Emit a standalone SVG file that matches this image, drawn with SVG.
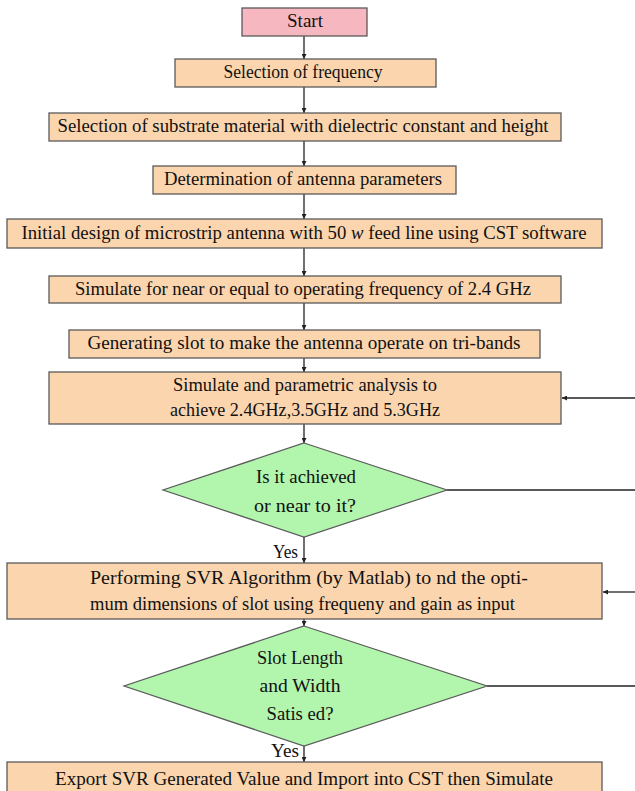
<svg xmlns="http://www.w3.org/2000/svg" width="635" height="791" viewBox="0 0 635 791">
<style>
.box{fill:#FBD5AE;stroke:#5a5a5a;stroke-width:1.3}
.start{fill:#F6B7C0;stroke:#5a5a5a;stroke-width:1.3}
.dia{fill:#B2F5AD;stroke:#5a5a5a;stroke-width:1.2}
text{font-family:"Liberation Serif","Times New Roman",serif;font-size:18px;fill:#111;text-anchor:middle;dominant-baseline:central}
.c{stroke:#222;stroke-width:1.3;fill:none}
</style>
<defs>
<marker id="ah" viewBox="0 0 8 8" refX="8" refY="4" markerWidth="5" markerHeight="5" orient="auto" markerUnits="userSpaceOnUse"><path d="M0,0L8,4L0,8z" fill="#222"/></marker>
</defs>
<rect width="635" height="791" fill="#fff"/>
<g id="connectors">
<line class="c" x1="304" y1="36" x2="304" y2="59" marker-end="url(#ah)"/>
<line class="c" x1="304" y1="87" x2="304" y2="113" marker-end="url(#ah)"/>
<line class="c" x1="304" y1="141" x2="304" y2="166" marker-end="url(#ah)"/>
<line class="c" x1="304" y1="194" x2="304" y2="219" marker-end="url(#ah)"/>
<line class="c" x1="304" y1="248" x2="304" y2="276" marker-end="url(#ah)"/>
<line class="c" x1="304" y1="303" x2="304" y2="330" marker-end="url(#ah)"/>
<line class="c" x1="304" y1="358" x2="304" y2="372" marker-end="url(#ah)"/>
<line class="c" x1="304" y1="424" x2="304" y2="443" marker-end="url(#ah)"/>
<line class="c" x1="304" y1="537" x2="304" y2="563" marker-end="url(#ah)"/>
<line class="c" x1="304" y1="619" x2="304" y2="626" marker-end="url(#ah)"/>
<line class="c" x1="304" y1="746" x2="304" y2="762" marker-end="url(#ah)"/>
<line class="c" x1="635" y1="398" x2="562" y2="398" marker-end="url(#ah)"/>
<line class="c" x1="447" y1="490" x2="635" y2="490"/>
<line class="c" x1="635" y1="592" x2="603" y2="592" marker-end="url(#ah)"/>
<line class="c" x1="487" y1="686" x2="635" y2="686"/>
<text x="298" y="552" style="text-anchor:end" textLength="25" lengthAdjust="spacingAndGlyphs">Yes</text>
<text x="299" y="751" style="text-anchor:end" textLength="28" lengthAdjust="spacingAndGlyphs">Yes</text>
</g>
<g id="start"><rect class="start" x="242" y="8" width="125" height="28"/><text x="305" y="21" textLength="36" lengthAdjust="spacingAndGlyphs">Start</text></g>
<g id="n1"><rect class="box" x="175" y="59" width="261" height="28"/><text x="303" y="72" textLength="159" lengthAdjust="spacingAndGlyphs">Selection of frequency</text></g>
<g id="n2"><rect class="box" x="49" y="113" width="512" height="28"/><text x="303" y="126" textLength="491" lengthAdjust="spacingAndGlyphs">Selection of substrate material with dielectric constant and height</text></g>
<g id="n3"><rect class="box" x="153" y="166" width="303" height="28"/><text x="303" y="179" textLength="278" lengthAdjust="spacingAndGlyphs">Determination of antenna parameters</text></g>
<g id="n4"><rect class="box" x="7" y="219" width="595" height="29"/><text x="304" y="233" textLength="565" lengthAdjust="spacingAndGlyphs">Initial design of microstrip antenna with 50 <tspan font-style="italic">w</tspan> feed line using CST software</text></g>
<g id="n5"><rect class="box" x="49" y="276" width="512" height="27"/><text x="303" y="289" textLength="456" lengthAdjust="spacingAndGlyphs">Simulate for near or equal to operating frequency of 2.4 GHz</text></g>
<g id="n6"><rect class="box" x="69" y="330" width="471" height="28"/><text x="304" y="343" textLength="433" lengthAdjust="spacingAndGlyphs">Generating slot to make the antenna operate on tri-bands</text></g>
<g id="n7"><rect class="box" x="49" y="372" width="512" height="52"/><text x="305" y="385" textLength="264" lengthAdjust="spacingAndGlyphs">Simulate and parametric analysis to</text><text x="305" y="410" textLength="270" lengthAdjust="spacingAndGlyphs">achieve 2.4GHz,3.5GHz and 5.3GHz</text></g>
<g id="d1"><polygon class="dia" points="304,443 447,490 304,537 163,490"/><text x="306" y="477" textLength="100" lengthAdjust="spacingAndGlyphs">Is it achieved</text><text x="305" y="506" textLength="102" lengthAdjust="spacingAndGlyphs">or near to it?</text></g>
<g id="n8"><rect class="box" x="7" y="563" width="595" height="56"/><text x="309" y="578" textLength="438" lengthAdjust="spacingAndGlyphs">Performing SVR Algorithm (by Matlab) to  nd the opti-</text><text x="302.5" y="604" textLength="425" lengthAdjust="spacingAndGlyphs">mum dimensions of slot using frequeny and gain as input</text></g>
<g id="d2"><polygon class="dia" points="304,626 487,686 304,746 124,686"/><text x="300" y="658" textLength="86" lengthAdjust="spacingAndGlyphs">Slot Length</text><text x="300" y="686" textLength="81" lengthAdjust="spacingAndGlyphs">and Width</text><text x="300" y="714" textLength="67" lengthAdjust="spacingAndGlyphs">Satis ed?</text></g>
<g id="n9"><rect class="box" x="7" y="762" width="595" height="40"/><text x="304" y="779" textLength="498" lengthAdjust="spacingAndGlyphs">Export SVR Generated Value and Import into CST then Simulate</text></g>
</svg>
